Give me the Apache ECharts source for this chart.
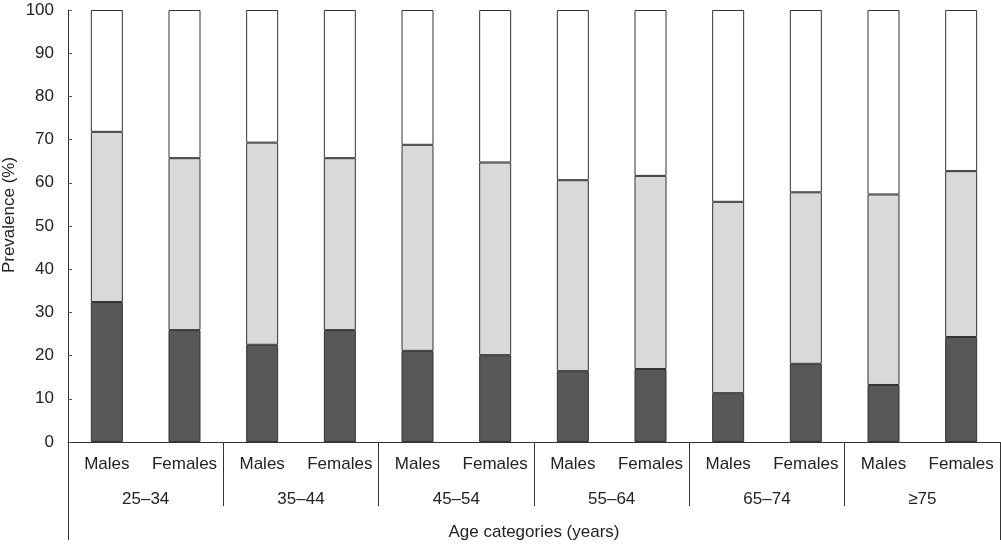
<!DOCTYPE html>
<html><head><meta charset="utf-8">
<script src="https://cdn.jsdelivr.net/npm/echarts@6/dist/echarts.min.js"></script>
<style>html,body{margin:0;padding:0;background:#fff}#c{width:1001px;height:544px}</style>
</head><body><div id="c"></div>
<script>
const sexLabels = ['Males','Females','Males','Females','Males','Females','Males','Females','Males','Females','Males','Females'];
const ageGroups = ['25–34','35–44','45–54','55–64','65–74','≥75'];
const xTitle = ['Age categories (years)'];
const yTicks = [0,10,20,30,40,50,60,70,80,90,100];
// dark segment (bottom) and cumulative top of light segment
const darkVals = [32.4, 25.9, 22.5, 25.9, 21.1, 20.1, 16.4, 16.9, 11.3, 18.1, 13.2, 24.3];
const lightTop = [71.8, 65.7, 69.3, 65.7, 68.8, 64.7, 60.6, 61.6, 55.6, 57.8, 57.3, 62.7];
const lightVals = lightTop.map((t,i)=>+(t - darkVals[i]).toFixed(1));
const whiteVals = lightTop.map(t=>+(100 - t).toFixed(1));

const font = '"Liberation Sans", Arial, sans-serif';
const chart = echarts.init(document.getElementById('c'));
const segStyle = c => ({color:c, borderColor:'#333', borderWidth:1});
chart.setOption({
  animation:false,
  grid:{left:68, right:1, top:10, bottom:102, containLabel:false, outerBoundsMode:'none'},
  xAxis:[
    {type:'category', data:sexLabels, position:'bottom',
     axisLine:{show:true, lineStyle:{color:'#333', width:1}},
     axisTick:{show:false},
     axisLabel:{margin:14, fontSize:17, color:'#222', fontFamily:font, interval:0}},
    {type:'category', data:ageGroups, position:'bottom',
     axisLine:{show:false},
     axisTick:{show:true, length:64, interval:0, lineStyle:{color:'#333', width:1}},
     axisLabel:{margin:49, fontSize:17, color:'#222', fontFamily:font, interval:0}},
    {type:'category', data:xTitle, position:'bottom',
     axisLine:{show:false},
     axisTick:{show:true, length:98, interval:0, lineStyle:{color:'#333', width:1}},
     axisLabel:{margin:82, fontSize:17, color:'#222', fontFamily:font}}
  ],
  yAxis:{type:'value', min:yTicks[0], max:yTicks[yTicks.length-1], interval:10,
    name:'Prevalence (%)', nameLocation:'middle', nameGap:50, nameRotate:90, nameMoveOverlap:false,
    nameTextStyle:{fontSize:17, color:'#222', fontFamily:font, padding:[0,0,0,22]},
    axisLine:{show:true, lineStyle:{color:'#333', width:1}},
    axisTick:{show:true, inside:true, length:4, lineStyle:{color:'#555'}},
    axisLabel:{fontSize:17, color:'#222', fontFamily:font, margin:14},
    splitLine:{show:false}},
  series:[
    {type:'bar', stack:'s', data:darkVals, barWidth:32, itemStyle:segStyle('#585858')},
    {type:'bar', stack:'s', data:lightVals, barWidth:32, itemStyle:segStyle('#d9d9d9')},
    {type:'bar', stack:'s', data:whiteVals, barWidth:32, itemStyle:segStyle('#ffffff')}
  ]
});
</script></body></html>
